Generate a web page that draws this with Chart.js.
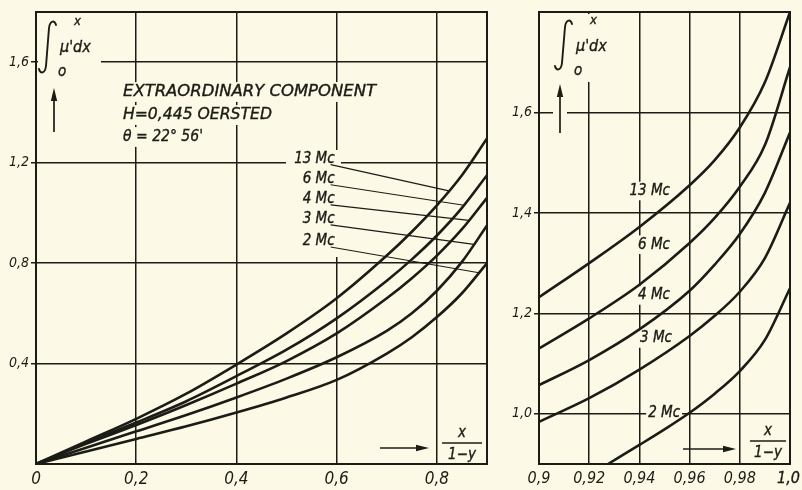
<!DOCTYPE html>
<html>
<head>
<meta charset="utf-8">
<script src="https://cdn.jsdelivr.net/npm/chart.js@4/dist/chart.umd.min.js"></script>
<style>
  html, body { margin: 0; padding: 0; background: #fcfae6; }
  #wrap { position: relative; width: 802px; height: 490px; overflow: hidden; background: #fcfae6; }
  canvas { position: absolute; top: 0; }
  #left { left: 0; }
  #right { left: 500px; }
</style>
</head>
<body>
<div id="wrap">
  <canvas id="left" width="500" height="490"></canvas>
  <canvas id="right" width="302" height="490"></canvas>
</div>
<script>
// ---- curve names ----
const seriesNames = ['13 Mc', '6 Mc', '4 Mc', '3 Mc', '2 Mc'];

// ---- left panel: integral of mu' over x/(1-y) from 0 to 0.9 ----
const xLeft   = [0, 0.1, 0.2, 0.3, 0.4, 0.5, 0.6, 0.7, 0.75, 0.8, 0.85, 0.9];
const left13  = [0, 0.09, 0.18, 0.28, 0.396, 0.52, 0.66, 0.83, 0.925, 1.03, 1.15, 1.296];
const left6   = [0, 0.085, 0.165, 0.25, 0.35, 0.455, 0.58, 0.73, 0.815, 0.91, 1.02, 1.15];
const left4   = [0, 0.08, 0.155, 0.235, 0.32, 0.41, 0.52, 0.66, 0.74, 0.83, 0.935, 1.06];
const left3   = [0, 0.065, 0.13, 0.195, 0.265, 0.34, 0.425, 0.53, 0.60, 0.69, 0.805, 0.95];
const left2   = [0, 0.05, 0.10, 0.15, 0.205, 0.265, 0.335, 0.44, 0.505, 0.585, 0.68, 0.80];

// ---- right panel: the range 0.9 ... 1.0 enlarged ----
const xRight   = [0.9, 0.92, 0.94, 0.96, 0.97, 0.98, 0.99, 1.0];
const right13  = [1.232, 1.30, 1.372, 1.455, 1.505, 1.57, 1.66, 1.80];
const right6   = [1.13, 1.19, 1.257, 1.34, 1.39, 1.452, 1.535, 1.69];
const right4   = [1.057, 1.107, 1.168, 1.245, 1.297, 1.358, 1.44, 1.56];
const right3   = [0.984, 1.031, 1.088, 1.155, 1.195, 1.243, 1.31, 1.42];
const xRight2  = [0.9275, 0.94, 0.95, 0.96, 0.97, 0.98, 0.99, 1.0];
const right2   = [0.9, 0.938, 0.969, 1.002, 1.04, 1.085, 1.147, 1.25];

// ---- ticks ----
const xTicksLeft   = [0, 0.2, 0.4, 0.6, 0.8];
const xLabelsLeft  = ['0', '0,2', '0,4', '0,6', '0,8'];
const yTicksLeft   = [0.4, 0.8, 1.2, 1.6];
const yLabelsLeft  = ['0,4', '0,8', '1,2', '1,6'];
const xTicksRight  = [0.9, 0.92, 0.94, 0.96, 0.98, 1.0];
const xLabelsRight = ['0,9', '0,92', '0,94', '0,96', '0,98', '1,0'];
const yTicksRight  = [1.0, 1.2, 1.4, 1.6];
const yLabelsRight = ['1,0', '1,2', '1,4', '1,6'];

// ---- curve labels (text right end, text centre) in data units ----
const leftLabelX   = 0.596;
const leftLabelY   = [1.216, 1.136, 1.056, 0.976, 0.888];
const leftLeaderX  = [0.824, 0.854, 0.864, 0.874, 0.884];
const rightLabelX  = [0.9522, 0.9522, 0.9522, 0.953, 0.9562];
const rightLabelY  = [1.4436, 1.3366, 1.2356, 1.150, 1.002];

const titleLines = ['EXTRAORDINARY COMPONENT', 'H=0,445 OERSTED', 'θ = 22° 56\''];

const INK = '#1c1c17';
const PAPER = '#fcfae6';
const FAMILY = "'DejaVu Sans Condensed', 'DejaVu Sans', sans-serif";
const font = (size) => `italic ${size}px ${FAMILY}`;

function valueAt(xs, ys, x) {
  for (let i = 1; i < xs.length; i++) {
    if (x <= xs[i]) {
      const t = (x - xs[i - 1]) / (xs[i] - xs[i - 1]);
      return ys[i - 1] + t * (ys[i] - ys[i - 1]);
    }
  }
  return ys[ys.length - 1];
}

// text, optionally squeezed/stretched to a width, with a paper-coloured mask behind it
function drawText(ctx, text, x, y, size, opt = {}) {
  const align = opt.align || 'left';
  ctx.save();
  ctx.font = font(size);
  const w0 = ctx.measureText(text).width;
  const k = opt.width ? opt.width / w0 : 1;
  const w = w0 * k;
  const x0 = align === 'right' ? x - w : align === 'center' ? x - w / 2 : x;
  if (opt.mask) {
    const p = opt.mask;
    ctx.fillStyle = PAPER;
    ctx.fillRect(x0 - p, y - size * 0.62, w + 2 * p, size * 1.24);
  }
  ctx.fillStyle = INK;
  ctx.strokeStyle = INK;
  ctx.lineWidth = 0.35;
  ctx.textBaseline = 'middle';
  ctx.textAlign = 'left';
  ctx.translate(x0, y);
  ctx.scale(k, 1);
  ctx.fillText(text, 0, 0);
  ctx.strokeText(text, 0, 0);
  ctx.restore();
}

function mask(ctx, x0, y0, x1, y1) {
  ctx.fillStyle = PAPER;
  ctx.fillRect(x0, y0, x1 - x0, y1 - y0);
}

function arrow(ctx, x1, y1, x2, y2) {
  const ang = Math.atan2(y2 - y1, x2 - x1);
  const L = 13, W = 3.2;
  ctx.save();
  ctx.strokeStyle = INK; ctx.fillStyle = INK; ctx.lineWidth = 1.7;
  ctx.beginPath();
  ctx.moveTo(x1, y1);
  ctx.lineTo(x2 - Math.cos(ang) * (L - 2), y2 - Math.sin(ang) * (L - 2));
  ctx.stroke();
  ctx.beginPath();
  ctx.moveTo(x2, y2);
  ctx.lineTo(x2 - Math.cos(ang) * L - Math.sin(ang) * W, y2 - Math.sin(ang) * L + Math.cos(ang) * W);
  ctx.lineTo(x2 - Math.cos(ang) * L + Math.sin(ang) * W, y2 - Math.sin(ang) * L - Math.cos(ang) * W);
  ctx.closePath();
  ctx.fill();
  ctx.restore();
}

// the integral symbol with limits 0 ... x and integrand mu'dx
function integralLabel(ctx, x0, y0, h) {
  ctx.save();
  ctx.strokeStyle = INK; ctx.lineWidth = 1.9; ctx.lineCap = 'round';
  ctx.beginPath();
  ctx.moveTo(x0 + 15, y0 + 4);
  ctx.bezierCurveTo(x0 + 14, y0 - 1, x0 + 9, y0 - 1, x0 + 8, y0 + 7);
  ctx.lineTo(x0 + 5, y0 + h - 7);
  ctx.bezierCurveTo(x0 + 4, y0 + h + 1, x0 - 1, y0 + h + 1, x0 - 2, y0 + h - 4);
  ctx.stroke();
  ctx.restore();
  drawText(ctx, 'x', x0 + 33, y0 + 1, 13);
  drawText(ctx, 'μ\'dx', x0 + 19, y0 + 27, 16);
  drawText(ctx, 'o', x0 + 17, y0 + 51, 15);
}

function fraction(ctx, cx, yBar, halfW) {
  drawText(ctx, 'x', cx, yBar - 10, 15, { align: 'center' });
  ctx.save();
  ctx.strokeStyle = INK; ctx.lineWidth = 1.5;
  ctx.beginPath(); ctx.moveTo(cx - halfW, yBar); ctx.lineTo(cx + halfW, yBar); ctx.stroke();
  ctx.restore();
  drawText(ctx, '1−y', cx, yBar + 12, 15, { align: 'center' });
}

function frame(chart) {
  const a = chart.chartArea, ctx = chart.ctx;
  ctx.save();
  ctx.strokeStyle = INK; ctx.lineWidth = 2;
  ctx.strokeRect(a.left, a.top, a.right - a.left, a.bottom - a.top);
  ctx.restore();
}

const leftDecor = {
  id: 'leftDecor',
  beforeDatasetsDraw(chart) {
    const ctx = chart.ctx, xs = chart.scales.x, ys = chart.scales.y;
    // integral label and upward arrow
    mask(ctx, 38, 14, 101, 80);
    integralLabel(ctx, 41, 21, 52);
    arrow(ctx, 54, 132, 54, 88);
    // parameters of the measurement
    drawText(ctx, titleLines[0], 123, 92, 16, { width: 253, mask: 5 });
    drawText(ctx, titleLines[1], 123, 115, 16, { width: 149, mask: 5 });
    drawText(ctx, titleLines[2], 123, 137, 16, { width: 80, mask: 5 });
    // curve labels with leader lines
    mask(ctx, 286, 150, 341, 257);
    const xr = xs.getPixelForValue(leftLabelX);
    const curves = [left13, left6, left4, left3, left2];
    seriesNames.forEach((name, i) => {
      const yc = ys.getPixelForValue(leftLabelY[i]);
      drawText(ctx, name, xr, yc, 15, { align: 'right' });
      const xe = xs.getPixelForValue(leftLeaderX[i]);
      const ye = ys.getPixelForValue(valueAt(xLeft, curves[i], leftLeaderX[i]));
      ctx.save();
      ctx.strokeStyle = INK; ctx.lineWidth = 1.2;
      ctx.beginPath(); ctx.moveTo(xr - 4, yc + 6); ctx.lineTo(xe, ye); ctx.stroke();
      ctx.restore();
    });
    // abscissa annotation
    arrow(ctx, 380, 448, 429, 448);
    fraction(ctx, 462, 443, 20);
  },
  afterDatasetsDraw(chart) { frame(chart); }
};

const rightDecor = {
  id: 'rightDecor',
  beforeDatasetsDraw(chart) {
    const ctx = chart.ctx, xs = chart.scales.x, ys = chart.scales.y;
    const off = 500; // canvas offset within the page
    mask(ctx, 541 - off, 14, 606 - off, 82);
    integralLabel(ctx, 557 - off, 20, 50);
    mask(ctx, 553 - off, 82, 567 - off, 136);
    arrow(ctx, 560 - off, 133, 560 - off, 84);
    seriesNames.forEach((name, i) => {
      drawText(ctx, name, xs.getPixelForValue(rightLabelX[i]), ys.getPixelForValue(rightLabelY[i]), 15,
        { align: 'right', mask: 2 });
    });
    arrow(ctx, 683 - off, 449, 736 - off, 449);
    fraction(ctx, 768 - off, 441, 18);
    // last abscissa label sits against the page edge, so it is right-aligned
    const last = xLabelsRight.length - 1;
    drawText(ctx, xLabelsRight[last], chart.width - 2, xs.bottom - 11, 16, { align: 'right' });
  },
  afterDatasetsDraw(chart) { frame(chart); }
};

function points(xs, ys) { return xs.map((x, i) => ({ x, y: ys[i] })); }

function axisOptions(min, max, ticks, labels, isX, labelSize, size, skipLast) {
  return {
    type: 'linear', min, max,
    afterBuildTicks: (s) => { s.ticks = ticks.map((v) => ({ value: v })); },
    afterFit: (s) => {
      if (isX) s.height = size; else s.width = size;
      s.paddingLeft = 0; s.paddingRight = 0; s.paddingTop = 0; s.paddingBottom = 0;
    },
    grid: { color: INK, lineWidth: 1.5, drawTicks: !isX, tickLength: 5, tickColor: INK },
    border: { color: INK, width: 2 },
    ticks: {
      color: INK, autoSkip: false, maxRotation: 0, padding: isX ? 5 : 2,
      font: { family: FAMILY, size: labelSize, style: 'italic' },
      callback: (v, i) => (skipLast && i === labels.length - 1) ? '' : labels[i]
    }
  };
}

function baseOptions(padding) {
  return {
    responsive: false, animation: false, events: [],
    layout: { padding },
    elements: {
      line: { borderColor: INK, borderWidth: 2.6, cubicInterpolationMode: 'monotone', fill: false },
      point: { radius: 0 }
    },
    plugins: { legend: { display: false }, tooltip: { enabled: false } }
  };
}

// left panel
{
  const opts = baseOptions({ top: 12, right: 13, left: 0, bottom: 0 });
  opts.scales = {
    x: axisOptions(0, 0.9, xTicksLeft, xLabelsLeft, true, 17, 26),
    y: axisOptions(0, 1.8, yTicksLeft, yLabelsLeft, false, 14, 36)
  };
  new Chart(document.getElementById('left'), {
    type: 'line',
    data: {
      datasets: [left13, left6, left4, left3, left2].map((ys, i) => ({
        label: seriesNames[i], data: points(xLeft, ys)
      }))
    },
    options: opts,
    plugins: [leftDecor]
  });
}

// right panel
{
  const opts = baseOptions({ top: 12, right: 12, left: 0, bottom: 0 });
  opts.scales = {
    x: axisOptions(0.9, 1.0, xTicksRight, xLabelsRight, true, 16, 26, true),
    y: axisOptions(0.9, 1.8, yTicksRight, yLabelsRight, false, 14, 39)
  };
  const sets = [
    points(xRight, right13), points(xRight, right6), points(xRight, right4),
    points(xRight, right3), points(xRight2, right2)
  ];
  new Chart(document.getElementById('right'), {
    type: 'line',
    data: { datasets: sets.map((d, i) => ({ label: seriesNames[i], data: d })) },
    options: opts,
    plugins: [rightDecor]
  });
}
</script>
</body>
</html>
